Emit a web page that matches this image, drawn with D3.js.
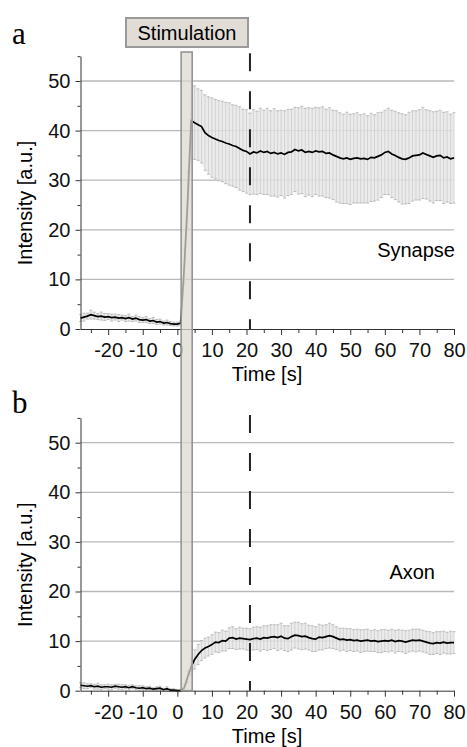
<!DOCTYPE html>
<html>
<head>
<meta charset="utf-8">
<script src="https://cdn.jsdelivr.net/npm/d3@7"></script>
<style>
  body { margin: 0; background: #fff; }
  text { font-family: "Liberation Sans", Arial, sans-serif; }
</style>
</head>
<body>
<div id="chart"></div>
<script>
// time grid: one sample per second from -28 s to 80 s
var T0 = -28;

// panel a (synapse) mean intensity, one value per second
var meanSynapse = [
  2.2, 2.4, 2.6, 2.9, 2.7, 2.5, 2.6, 2.4, 2.5, 2.3,
  2.4, 2.2, 2.3, 2.1, 2.3, 2.0, 2.2, 1.9, 1.8, 1.9,
  1.6, 1.7, 1.4, 1.5, 1.2, 1.3, 1.1, 1.0, 1.0, 1.2,
  12.5, 26.0, 42.0, 41.6, 41.2, 40.8, 39.6, 39.0, 38.6, 38.3,
  38.0, 37.8, 37.5, 37.3, 37.0, 36.8, 36.4, 36.0, 35.8, 35.3,
  35.7, 35.5, 35.9, 35.6, 35.8, 35.4, 35.6, 35.3, 35.5, 35.2,
  35.6, 35.7, 36.2, 35.9, 36.1, 35.6, 35.8, 35.6, 35.9, 35.7,
  35.8, 35.4, 35.5, 35.1, 34.8, 34.5, 34.3, 34.5, 34.2, 34.4,
  34.5, 34.3, 34.4, 34.2, 34.6, 34.5, 34.8, 35.1, 35.6, 35.8,
  35.3, 35.0, 34.6, 34.3, 34.2, 34.5, 34.9, 35.0, 35.1, 35.5,
  35.2, 34.9, 34.6, 34.9, 35.0, 34.5, 34.7, 34.3, 34.5
];
var errSynapse = [
  0.7, 0.8, 0.6, 0.9, 0.7, 0.6, 0.8, 0.7, 0.6, 0.7,
  0.6, 0.7, 0.5, 0.6, 0.7, 0.5, 0.6, 0.6, 0.5, 0.6,
  0.5, 0.6, 0.5, 0.5, 0.4, 0.5, 0.4, 0.4, 0.4, 0.5,
  3.5, 5.8, 7.8, 7.4, 7.2, 7.3, 7.6, 7.8, 8.0, 8.0,
  8.1, 8.1, 8.2, 8.3, 8.2, 8.3, 8.4, 8.3, 8.4, 8.2,
  8.5, 8.4, 8.6, 8.5, 8.7, 8.6, 8.8, 8.7, 8.6, 8.8,
  8.7, 8.6, 8.5, 8.7, 8.8, 8.9, 8.8, 8.9, 8.8, 8.9,
  9.0, 8.9, 9.1, 9.0, 9.2, 9.1, 9.0, 9.2, 9.1, 9.0,
  9.1, 8.9, 9.0, 8.8, 8.9, 8.7, 8.8, 8.6, 8.5, 8.7,
  8.8, 8.9, 9.0, 9.1, 9.0, 9.2, 9.1, 9.0, 9.1, 9.2,
  9.0, 9.1, 9.2, 9.0, 9.1, 9.2, 9.1, 9.0, 9.1
];

// panel b (axon)
var meanAxon = [
  1.1, 1.0, 0.9, 1.0, 0.8, 0.9, 0.7, 0.8, 0.8, 0.7,
  0.9, 0.8, 0.7, 0.8, 0.6, 0.8, 0.6, 0.5, 0.6, 0.4,
  0.5, 0.3, 0.4, 0.5, 0.2, 0.4, 0.1, 0.1, 0.0, 0.0,
  0.6, 2.8, 4.8, 6.3, 7.3, 8.1, 8.6, 8.9, 9.3, 9.8,
  9.7, 10.1, 10.0, 10.6, 10.7, 10.4, 10.6, 10.5, 10.4, 10.3,
  10.5, 10.6, 10.4, 10.7, 10.6, 10.8, 10.9, 10.7, 11.0, 10.6,
  10.5, 10.9, 11.2, 11.1, 10.9, 11.0, 10.7, 10.5, 10.4, 10.8,
  10.7, 10.9, 11.1, 10.9, 10.6, 10.3, 10.4, 10.2, 10.3, 10.1,
  10.2, 10.0, 10.1, 10.2, 10.0, 10.1, 9.9, 10.0, 10.1, 10.0,
  10.2, 9.9, 10.1, 10.0, 9.8, 10.0, 10.2, 10.1, 10.2, 10.0,
  9.8, 9.6, 9.5, 9.7, 9.6, 9.8, 9.6, 9.7, 9.7
];
var errAxon = [
  0.5, 0.6, 0.5, 0.4, 0.5, 0.6, 0.5, 0.4, 0.5, 0.5,
  0.4, 0.5, 0.5, 0.4, 0.5, 0.4, 0.4, 0.5, 0.4, 0.4,
  0.4, 0.3, 0.4, 0.4, 0.3, 0.4, 0.3, 0.3, 0.2, 0.2,
  0.6, 1.2, 1.7, 1.9, 2.0, 2.0, 2.0, 1.9, 2.0, 2.0,
  2.0, 2.1, 2.0, 2.1, 2.2, 2.1, 2.2, 2.1, 2.2, 2.2,
  2.3, 2.3, 2.4, 2.4, 2.5, 2.5, 2.4, 2.6, 2.6, 2.5,
  2.6, 2.7, 2.6, 2.7, 2.6, 2.6, 2.5, 2.6, 2.5, 2.6,
  2.5, 2.4, 2.5, 2.4, 2.3, 2.3, 2.2, 2.3, 2.2, 2.2,
  2.2, 2.3, 2.2, 2.2, 2.1, 2.2, 2.2, 2.3, 2.2, 2.2,
  2.2, 2.3, 2.2, 2.2, 2.3, 2.2, 2.2, 2.3, 2.2, 2.2,
  2.2, 2.3, 2.2, 2.2, 2.3, 2.2, 2.2, 2.3, 2.2
];

var xMajor = [-20, -10, 0, 10, 20, 30, 40, 50, 60, 70, 80];
var xMinor = [-25, -15, -5, 5, 15, 25, 35, 45, 55, 65, 75];
var yMajor = [0, 10, 20, 30, 40, 50];
var yMinor = [5, 15, 25, 35, 45, 55];
var gridValues = [10, 20, 30, 40, 50];
var stimWindow = [1.1, 4.3];
var markerTime = 21;

var width = 467, height = 747;
var svg = d3.select("#chart").append("svg")
  .attr("width", width).attr("height", height);

var x = d3.scaleLinear().domain([-28, 80]).range([80.5, 454]);

var panels = [
  { letter: "a", name: "Synapse", mean: meanSynapse, err: errSynapse, y0: 329, nameX: 455, nameY: 257 },
  { letter: "b", name: "Axon", mean: meanAxon, err: errAxon, y0: 690.7, nameX: 435, nameY: 579 }
];

panels.forEach(function (p) {
  var y = d3.scaleLinear().domain([0, 55]).range([p.y0, p.y0 - 272.8]);
  var g = svg.append("g");
  var data = p.mean.map(function (m, i) {
    return { t: T0 + i, m: m, e: p.err[i] };
  });

  // grid
  g.selectAll(".grid").data(gridValues).enter().append("line")
    .attr("x1", x.range()[0]).attr("x2", x.range()[1])
    .attr("y1", function (d) { return y(d); })
    .attr("y2", function (d) { return y(d); })
    .attr("stroke", "#b9b9b9").attr("stroke-width", 1.3);

  // error band + bars
  g.append("path").datum(data)
    .attr("d", d3.area()
      .x(function (d) { return x(d.t); })
      .y0(function (d) { return y(d.m - d.e); })
      .y1(function (d) { return y(d.m + d.e); }))
    .attr("fill", "#e6e6e6").attr("fill-opacity", 0.8);

  var bars = g.selectAll(".eb").data(data).enter().append("g");
  bars.append("line")
    .attr("x1", function (d) { return x(d.t); })
    .attr("x2", function (d) { return x(d.t); })
    .attr("y1", function (d) { return y(d.m - d.e); })
    .attr("y2", function (d) { return y(d.m + d.e); })
    .attr("stroke", "#cdcdcd").attr("stroke-width", 0.8);
  ["m-", "m+"].forEach(function (k) {
    bars.append("line")
      .attr("x1", function (d) { return x(d.t) - 1.5; })
      .attr("x2", function (d) { return x(d.t) + 1.5; })
      .attr("y1", function (d) { return y(k === "m+" ? d.m + d.e : d.m - d.e); })
      .attr("y2", function (d) { return y(k === "m+" ? d.m + d.e : d.m - d.e); })
      .attr("stroke", "#b0b0b0").attr("stroke-width", 0.8);
  });

  // mean trace
  g.append("path").datum(data)
    .attr("d", d3.line()
      .x(function (d) { return x(d.t); })
      .y(function (d) { return y(d.m); }))
    .attr("fill", "none").attr("stroke", "#000").attr("stroke-width", 1.7);

  // dashed marker at 21 s
  g.append("line")
    .attr("x1", x(markerTime)).attr("x2", x(markerTime))
    .attr("y1", y(55) - 3).attr("y2", y(0))
    .attr("stroke", "#222").attr("stroke-width", 2)
    .attr("stroke-dasharray", "18,20");

  // axes
  var xAx = g.append("g").attr("transform", "translate(0," + p.y0 + ")");
  xAx.call(d3.axisBottom(x).tickValues(xMajor).tickSize(6).tickSizeOuter(0).tickPadding(8));
  g.append("g").attr("transform", "translate(0," + p.y0 + ")")
    .call(d3.axisBottom(x).tickValues(xMinor).tickSize(4).tickFormat("")).select(".domain").remove();

  var yAx = g.append("g").attr("transform", "translate(" + x.range()[0] + ",0)");
  yAx.call(d3.axisLeft(y).tickValues(yMajor).tickSize(5).tickSizeOuter(0).tickPadding(5));
  g.append("g").attr("transform", "translate(" + x.range()[0] + ",0)")
    .call(d3.axisLeft(y).tickValues(yMinor).tickSize(3).tickFormat("")).select(".domain").remove();

  g.selectAll(".tick text").attr("font-size", 20)
    .attr("font-family", "'Liberation Sans', Arial, sans-serif").attr("fill", "#111");
  g.selectAll(".domain, .tick line").attr("stroke", "#333");
  // hyphen-style minus like the original
  xAx.selectAll(".tick text").text(function (d) { return d < 0 ? "-" + Math.abs(d) : d; });

  // titles
  g.append("text").attr("x", 267).attr("y", p.y0 + 52)
    .attr("text-anchor", "middle").attr("font-size", 20).text("Time [s]");
  g.append("text")
    .attr("transform", "translate(32," + (p.y0 - 126) + ") rotate(-90)")
    .attr("text-anchor", "middle").attr("font-size", 20).text("Intensity [a.u.]");
  g.append("text").attr("x", p.nameX).attr("y", p.nameY)
    .attr("text-anchor", "end").attr("font-size", 20).text(p.name);
  g.append("text").attr("x", 12).attr("y", p.y0 - (p.letter === "a" ? 285 : 278))
    .style("font-family", "'Liberation Serif', 'Times New Roman', serif")
    .attr("font-size", 31).text(p.letter);
});

// stimulation bar across both panels
svg.append("rect")
  .attr("x", x(stimWindow[0])).attr("y", 52)
  .attr("width", x(stimWindow[1]) - x(stimWindow[0]))
  .attr("height", 690.7 - 52)
  .attr("fill", "#dcd7ce").attr("fill-opacity", 0.72)
  .attr("stroke", "#959595").attr("stroke-width", 1.6);

svg.append("rect")
  .attr("x", 126).attr("y", 18).attr("width", 122).attr("height", 29)
  .attr("fill", "#e1ddd6").attr("stroke", "#9a9a9a").attr("stroke-width", 2);
svg.append("text").attr("x", 187).attr("y", 39.5)
  .attr("text-anchor", "middle").attr("font-size", 20).text("Stimulation");
</script>
</body>
</html>
